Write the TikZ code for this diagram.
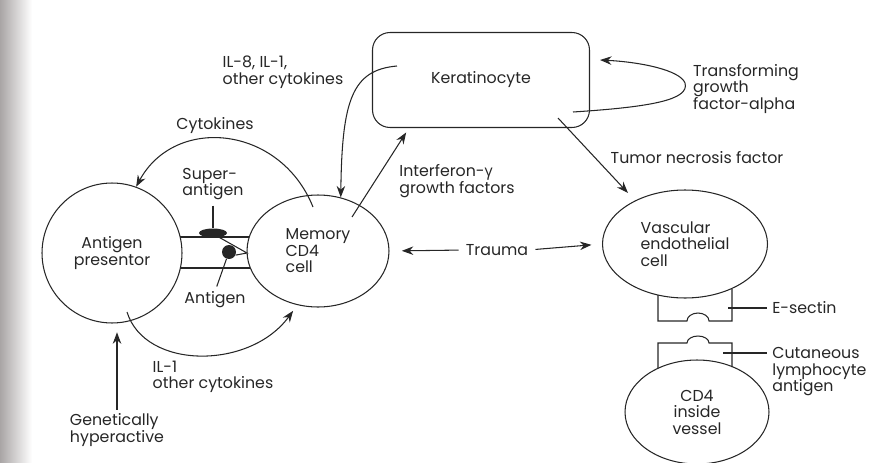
\documentclass[tikz,border=0pt]{standalone}
\usepackage{fontspec}
\setmainfont{Poppins}
\newfontfamily\greekfont{Open Sans}
\usetikzlibrary{shapes.geometric, arrows.meta, positioning, calc}
\definecolor{InkBlack}{HTML}{262626}
\definecolor{ScanGray}{HTML}{A9A5A5}
\newcommand{\figfont}{\fontsize{9pt}{9.4pt}\selectfont}
\tikzset{
    cell/.style={
        draw=InkBlack,
        ellipse,
        line width=0.6pt,
        inner sep=0pt,
        text=InkBlack,
        font=\figfont,
        align=center
    },
    keratbox/.style={
        draw=InkBlack,
        rounded corners=0.35cm,
        line width=0.6pt,
        minimum width=4.34cm,
        minimum height=1.9cm,
        text=InkBlack,
        font=\figfont
    },
    blob/.style={
        ellipse,
        fill=InkBlack,
        inner sep=0pt
    },
    tag/.style={
        align=left,
        inner sep=0pt,
        text=InkBlack,
        font=\figfont
    },
    arrow/.style={
        ->,
        >={Stealth[length=2.3mm, width=1.7mm]},
        line width=0.6pt,
        InkBlack
    },
    plain/.style={
        line width=0.6pt,
        InkBlack
    }
}

\begin{document}
\begin{tikzpicture}[x=0.02cm, y=-0.02cm]
    \useasboundingbox (0,0) rectangle (872,463);
    \shade[left color=ScanGray, right color=white] (0,0) rectangle (32,463);

    % cells
    \node[cell, minimum width=2.8cm, minimum height=2.8cm] (apc) at (112,253) {Antigen\\presentor};
    \node[cell, minimum width=2.84cm, minimum height=2.24cm, align=left] (mem) at (318,251) {Memory\\CD4\\cell};
    \node[keratbox] (kerat) at (481,80) {Keratinocyte};
    \node[cell, minimum width=3.3cm, minimum height=2.16cm, align=left] (vasc) at (685,244) {Vascular\\endothelial\\cell};
    \node[cell, minimum width=2.88cm, minimum height=2.08cm] (cdv) at (697,412) {CD4\\inside\\vessel};

    % labels
    \node[tag] (il8) at (283,72) {IL-8, IL-1,\\other cytokines};
    \node[tag] (cyto) at (215,126) {Cytokines};
    \node[tag] (super) at (213,184) {Super-\\antigen};
    \node[tag] (aglabel) at (215,300) {Antigen};
    \node[tag] (ifn) at (457,181) {Interferon-{\greekfont γ}\\growth factors};
    \node[tag] (tgf) at (746,89) {Transforming\\growth\\factor-alpha};
    \node[tag] (tnf) at (697,158) {Tumor necrosis factor};
    \node[tag] (trauma) at (497,250) {Trauma};
    \node[tag, anchor=west] (esel) at (772,308) {E-sectin};
    \node[tag, anchor=west] (cla) at (772,372) {Cutaneous\\lymphocyte\\antigen};
    \node[tag] (il1) at (213,377) {IL-1\\other cytokines};
    \node[tag] (genet) at (117,430) {Genetically\\hyperactive};

    % antigen bridge
    \node[blob, minimum width=0.56cm, minimum height=0.18cm] (sag) at (213,233) {};
    \node[blob, minimum width=0.28cm, minimum height=0.28cm] (ag) at (229,252) {};
    \coordinate (tcr) at (247,253);
    \draw[plain] ([shift={(68,-16)}]apc.center) -- ([shift={(-69,-14)}]mem.center);
    \draw[plain] ([shift={(68,15)}]apc.center) -- ([shift={(-68,17)}]mem.center);
    \draw[plain] (sag.-35) -- (tcr) -- (ag.-25);
    \draw[plain, shorten <=3pt] (super.south) -- (sag.north);
    \draw[plain, shorten <=3pt] (aglabel.north) -- (ag.250);

    % adhesion molecules
    \draw[plain] (658,295) -- (658,321) -- (687,321) arc[start angle=180, end angle=360, x radius=11, y radius=8] -- (732,321) -- (732,289);
    \draw[plain] (658,368) -- (658,343) -- (687,343) arc[start angle=180, end angle=360, x radius=11, y radius=7] -- (732,343) -- (732,367);
    \coordinate (eselpt) at (728,308);
    \coordinate (clapt) at (723,353);
    \draw[plain, shorten <=3pt] (esel.west) -- (eselpt);
    \draw[plain, shorten <=3pt] (cla.west |- clapt) -- (clapt);

    % signalling
    \draw[arrow] ([shift={(25,-14)}]kerat.west) .. controls (352,70) and (342,100) .. (mem.67);
    \draw[arrow] ([shift={(-5,-44)}]mem.center) .. controls (280,125) and (175,115) .. (apc.70);
    \draw[arrow, shorten >=4pt] ([shift={(15,59)}]apc.center) .. controls (145,370) and (250,370) .. (mem.249);
    \draw[arrow, shorten <=2pt, shorten >=5pt] (genet.north) -- (genet.north |- apc.south);
    \draw[arrow, shorten >=3pt] ([shift={(34,-34)}]mem.center) -- ([shift={(37,0)}]kerat.south west);
    \draw[arrow] ([shift={(-32,-10)}]kerat.south east) -- ([shift={(-57,-51)}]vasc.center);
    \draw[arrow] ([shift={(-17,32)}]kerat.east) .. controls (650,107) and (690,100) .. (685,83) .. controls (680,70) and (640,62) .. ([shift={(10,-20)}]kerat.east);
    \draw[arrow, shorten <=4pt, shorten >=7pt] (trauma.west) -- (mem.east);
    \draw[arrow, shorten <=4pt, shorten >=6pt] (trauma.east) -- (vasc.west);
\end{tikzpicture}
\end{document}
